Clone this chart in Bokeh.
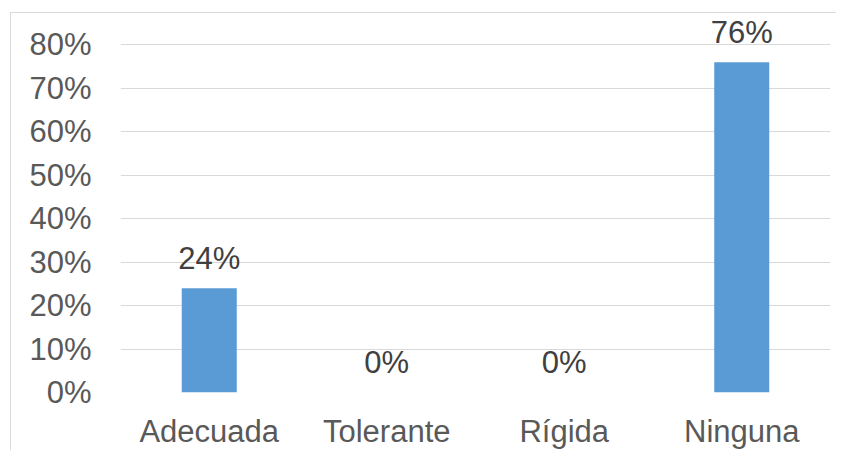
from bokeh.plotting import figure
from bokeh.models import ColumnDataSource, FactorRange, Range1d, FixedTicker, NumeralTickFormatter
from bokeh.core.properties import value
from bokeh.embed import file_html
from bokeh.resources import INLINE

categories = ["Adecuada", "Tolerante", "Rígida", "Ninguna"]
values = [0.24, 0.0, 0.0, 0.76]
tick_values = [0, 0.1, 0.2, 0.3, 0.4, 0.5, 0.6, 0.7, 0.8]

labels = [f"{round(v * 100)}%" for v in values]
src = ColumnDataSource(dict(cat=categories, val=values, lab=labels))

FONT = "Liberation Sans"

p = figure(
    width=826, height=438,
    x_range=FactorRange(*categories, range_padding=0),
    y_range=Range1d(0, 0.87),
    output_backend="svg", toolbar_location=None,
    min_border_left=109, min_border_right=7,
    min_border_top=1, min_border_bottom=59,
)
p.styles = {
    "margin-left": "10px", "margin-top": "12px",
    "border-left": "1px solid #d9d9d9", "border-top": "1px solid #d9d9d9",
}
p.outline_line_color = None
p.background_fill_color = "white"
p.border_fill_color = "white"

p.vbar(x="cat", top="val", width=0.31, source=src, color="#5B9BD5", line_color=None)

p.text(x="cat", y="val", text="lab", source=src,
       text_align="center", text_baseline="alphabetic", y_offset=-30,
       text_font=value(FONT), text_font_size="31px", text_color="#404040")

p.xgrid.visible = False
p.ygrid.ticker = FixedTicker(ticks=tick_values)
p.ygrid.grid_line_color = "#d9d9d9"
p.ygrid.grid_line_width = 1

ya = p.yaxis[0]
ya.ticker = FixedTicker(ticks=tick_values)
ya.formatter = NumeralTickFormatter(format="0%")
ya.axis_line_color = None
ya.major_tick_line_color = None
ya.minor_tick_line_color = None
ya.major_tick_out = 0
ya.major_tick_in = 0
ya.major_label_standoff = 29
ya.major_label_text_font = FONT
ya.major_label_text_font_size = "31px"
ya.major_label_text_color = "#595959"

xa = p.xaxis[0]
xa.axis_line_color = None
xa.major_tick_line_color = None
xa.major_tick_out = 0
xa.major_tick_in = 0
xa.major_label_standoff = 21
xa.major_label_text_font = FONT
xa.major_label_text_font_size = "31px"
xa.major_label_text_color = "#595959"

open("out.html", "w").write(file_html(p, INLINE))
